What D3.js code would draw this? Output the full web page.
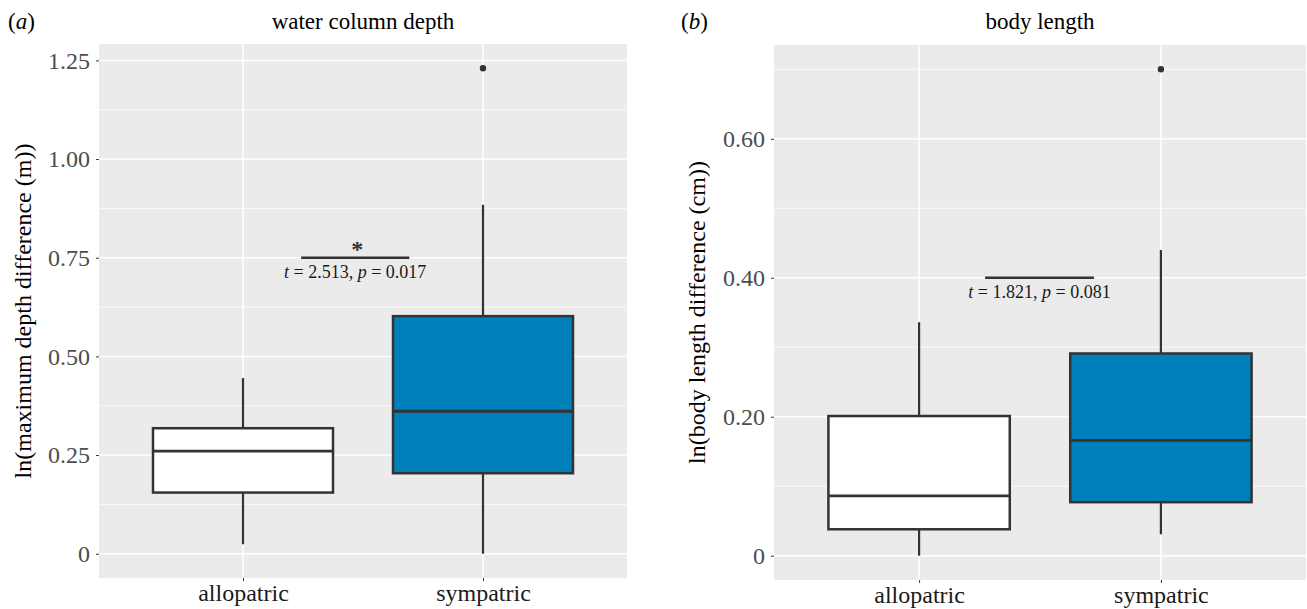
<!DOCTYPE html>
<html>
<head>
<meta charset="utf-8">
<script src="https://cdn.jsdelivr.net/npm/d3@7"></script>
<style>
  body { margin: 0; background: #fff; }
  text { font-family: "Liberation Serif", "Times New Roman", serif; }
</style>
</head>
<body>
<svg id="chart" width="1307" height="609"></svg>
<script>
// categories
var groups = ["allopatric", "sympatric"];

// (a) water column depth, ln(max depth difference (m))
var depthLower   = [0.024, 0.0];
var depthQ1      = [0.155, 0.204];
var depthMedian  = [0.260, 0.361];
var depthQ3      = [0.318, 0.602];
var depthUpper   = [0.445, 0.884];
var depthOutliers = [[], [1.23]];
var depthTicks   = [0, 0.25, 0.5, 0.75, 1.0, 1.25];
var depthMinor   = [0.125, 0.375, 0.625, 0.875, 1.125];

// (b) body length, ln(body length difference (cm))
var lengthLower   = [0.0, 0.031];
var lengthQ1      = [0.038, 0.077];
var lengthMedian  = [0.086, 0.166];
var lengthQ3      = [0.201, 0.291];
var lengthUpper   = [0.336, 0.440];
var lengthOutliers = [[], [0.70]];
var lengthTicks   = [0, 0.2, 0.4, 0.6];
var lengthMinor   = [0.1, 0.3, 0.5, 0.7];

var fills = ["#ffffff", "#0080bb"];
var ink = "#333333";
var serif = "'Liberation Serif', 'Times New Roman', serif";

var svg = d3.select("#chart");

var panels = [
  {
    tag: "a", title: "water column depth",
    yTitle: "ln(maximum depth difference (m))",
    lower: depthLower, q1: depthQ1, median: depthMedian, q3: depthQ3, upper: depthUpper,
    outliers: depthOutliers, ticks: depthTicks, minor: depthMinor,
    yDomain: [-0.0615, 1.2915], fmt: function (v) { return v === 0 ? "0" : d3.format(".2f")(v); },
    test: { y: 0.75, from: 1.242, to: 1.693, star: true, t: "2.513", p: "0.017" },
    left: 99, right: 627, top: 44, bottom: 578, tagX: 8, yTitleX: 31
  },
  {
    tag: "b", title: "body length",
    yTitle: "ln(body length difference (cm))",
    lower: lengthLower, q1: lengthQ1, median: lengthMedian, q3: lengthQ3, upper: lengthUpper,
    outliers: lengthOutliers, ticks: lengthTicks, minor: lengthMinor,
    yDomain: [-0.035, 0.735], fmt: function (v) { return v === 0 ? "0" : d3.format(".2f")(v); },
    test: { y: 0.40, from: 1.273, to: 1.723, star: false, t: "1.821", p: "0.081" },
    left: 774, right: 1306, top: 45, bottom: 580, tagX: 681, yTitleX: 705
  }
];

panels.forEach(function (p) {
  var g = svg.append("g");
  var x = d3.scaleLinear().domain([0.4, 2.6]).range([p.left, p.right]);
  var y = d3.scaleLinear().domain(p.yDomain).range([p.bottom, p.top]);

  // panel background
  g.append("rect")
    .attr("x", p.left).attr("y", p.top)
    .attr("width", p.right - p.left).attr("height", p.bottom - p.top)
    .attr("fill", "#ebebeb");

  // grid lines
  g.selectAll(".minor").data(p.minor).enter().append("line")
    .attr("x1", p.left).attr("x2", p.right)
    .attr("y1", function (d) { return y(d); }).attr("y2", function (d) { return y(d); })
    .attr("stroke", "#fff").attr("stroke-width", 0.8);
  g.selectAll(".major").data(p.ticks).enter().append("line")
    .attr("x1", p.left).attr("x2", p.right)
    .attr("y1", function (d) { return y(d); }).attr("y2", function (d) { return y(d); })
    .attr("stroke", "#fff").attr("stroke-width", 1.5);
  g.selectAll(".vgrid").data([1, 2]).enter().append("line")
    .attr("x1", function (d) { return x(d); }).attr("x2", function (d) { return x(d); })
    .attr("y1", p.top).attr("y2", p.bottom)
    .attr("stroke", "#fff").attr("stroke-width", 1.5);

  // y axis
  var ya = g.append("g").attr("transform", "translate(" + p.left + ",0)")
    .call(d3.axisLeft(y).tickValues(p.ticks).tickFormat(p.fmt).tickSize(3).tickPadding(6));
  ya.attr("font-family", serif);
  ya.select(".domain").remove();
  ya.selectAll("line").attr("stroke", ink);
  ya.selectAll("text").attr("font-size", 24).attr("fill", "#4d4d4d");

  // x axis
  var xa = g.append("g").attr("transform", "translate(0," + p.bottom + ")")
    .call(d3.axisBottom(x).tickValues([1, 2]).tickFormat(function (d) { return groups[d - 1]; }).tickSize(3));
  xa.attr("font-family", serif);
  xa.select(".domain").remove();
  xa.selectAll("line").attr("stroke", ink);
  xa.selectAll("text").attr("font-size", 24).attr("fill", "#1a1a1a")
    .attr("y", 23).attr("dy", 0);

  // boxes
  var idx = [0, 1];
  var half = 0.375;
  g.selectAll(".whisker").data(idx).enter().append("line")
    .attr("x1", function (i) { return x(i + 1); }).attr("x2", function (i) { return x(i + 1); })
    .attr("y1", function (i) { return y(p.lower[i]); }).attr("y2", function (i) { return y(p.upper[i]); })
    .attr("stroke", ink).attr("stroke-width", 2.2);
  g.selectAll(".box").data(idx).enter().append("rect")
    .attr("x", function (i) { return x(i + 1 - half); })
    .attr("width", function (i) { return x(i + 1 + half) - x(i + 1 - half); })
    .attr("y", function (i) { return y(p.q3[i]); })
    .attr("height", function (i) { return y(p.q1[i]) - y(p.q3[i]); })
    .attr("fill", function (i) { return fills[i]; })
    .attr("stroke", ink).attr("stroke-width", 2.5);
  g.selectAll(".median").data(idx).enter().append("line")
    .attr("x1", function (i) { return x(i + 1 - half); }).attr("x2", function (i) { return x(i + 1 + half); })
    .attr("y1", function (i) { return y(p.median[i]); }).attr("y2", function (i) { return y(p.median[i]); })
    .attr("stroke", ink).attr("stroke-width", 2.8);
  idx.forEach(function (i) {
    g.selectAll(null).data(p.outliers[i]).enter().append("circle")
      .attr("cx", x(i + 1)).attr("cy", function (d) { return y(d); })
      .attr("r", 3.2).attr("fill", ink);
  });

  // t-test annotation
  var tt = p.test, mid = (tt.from + tt.to) / 2;
  g.append("line")
    .attr("x1", x(tt.from)).attr("x2", x(tt.to))
    .attr("y1", y(tt.y)).attr("y2", y(tt.y))
    .attr("stroke", ink).attr("stroke-width", 2.5);
  if (tt.star) {
    g.append("text").attr("x", x(mid) + 2).attr("y", y(tt.y) - 1)
      .attr("text-anchor", "middle").attr("font-size", 24).attr("font-weight", "bold")
      .attr("fill", ink).text("*");
  }
  var lab = g.append("text").attr("x", x(mid)).attr("y", y(tt.y) + 20)
    .attr("text-anchor", "middle").attr("font-size", 18).attr("fill", "#1a1a1a");
  lab.append("tspan").attr("font-style", "italic").text("t");
  lab.append("tspan").text(" = " + tt.t + ", ");
  lab.append("tspan").attr("font-style", "italic").text("p");
  lab.append("tspan").text(" = " + tt.p);

  // titles
  g.append("text").attr("x", (p.left + p.right) / 2).attr("y", 29)
    .attr("text-anchor", "middle").attr("font-size", 23).attr("fill", "#000").text(p.title);
  var tag = g.append("text").attr("x", p.tagX).attr("y", 29).attr("font-size", 23).attr("fill", "#000");
  tag.append("tspan").text("(");
  tag.append("tspan").attr("font-style", "italic").text(p.tag);
  tag.append("tspan").text(")");
  g.append("text")
    .attr("transform", "translate(" + p.yTitleX + "," + ((p.top + p.bottom) / 2) + ") rotate(-90)")
    .attr("text-anchor", "middle").attr("font-size", 24).attr("fill", "#000").text(p.yTitle);
});
</script>
</body>
</html>
